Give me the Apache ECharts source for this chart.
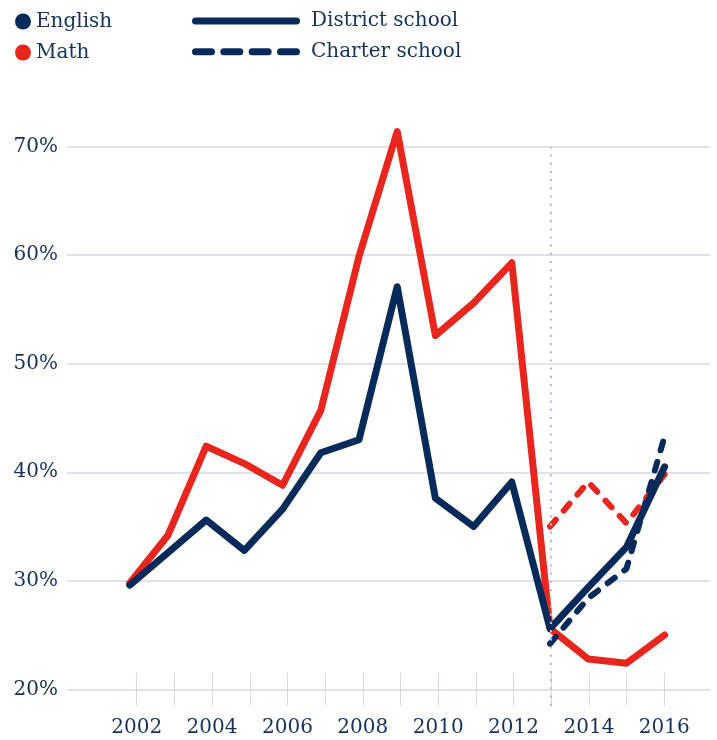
<!DOCTYPE html>
<html>
<head>
<meta charset="utf-8">
<script src="https://cdn.jsdelivr.net/npm/echarts@6/dist/echarts.min.js"></script>
<style>
  html, body { margin: 0; padding: 0; background: #fff; }
  #chart { width: 717px; height: 740px; }
</style>
</head>
<body>
<div id="chart"></div>
<script>
const years = [2002, 2003, 2004, 2005, 2006, 2007, 2008, 2009, 2010, 2011, 2012, 2013, 2014, 2015, 2016];
const englishDistrict = [29.6, 32.6, 35.6, 32.8, 36.6, 41.8, 43.0, 57.1, 37.6, 35.0, 39.1, 25.6, 29.4, 33.1, 40.5];
const mathDistrict = [29.8, 34.2, 42.4, 40.8, 38.8, 45.7, 59.9, 71.4, 52.6, 55.6, 59.3, 25.6, 22.8, 22.4, 25.0];
const charterYears = [2013, 2014, 2015, 2016];
const englishCharter = [24.2, 28.4, 31.1, 43.3];
const mathCharter = [35.0, 39.1, 35.3, 39.8];
const yTicks = [20, 30, 40, 50, 60, 70];
const dividerYear = 2013;

const NAVY = '#062b5b';
const RED = '#e8261e';
const TEXT = '#14325d';
const GRID = '#d6d9e5';
const FONT = 'DejaVu Serif';

const pair = (xs, ys) => xs.map((x, i) => [x, ys[i]]);

// pill shaped legend icons
function pill(x, w, h) {
  let r = h / 2;
  return 'M' + (x + r) + ',0H' + (x + w - r) + 'A' + r + ',' + r + ',0,0,1,' + (x + w - r) + ',' + h +
    'H' + (x + r) + 'A' + r + ',' + r + ',0,0,1,' + (x + r) + ',0Z';
}
const solidIcon = 'path://' + pill(0, 108, 7);
const dashedIcon = 'path://' + [0, 28.33, 56.67, 85].map(x => pill(x, 23, 7)).join('');

let chart = echarts.init(document.getElementById('chart'));

let solid = { width: 7, cap: 'round', join: 'round' };
let dashed = { width: 6, cap: 'round', join: 'round', type: [9, 12] };

let option = {
  animation: false,
  legend: [
    {
      left: 10, top: 6.5, orient: 'vertical', itemGap: 11,
      itemWidth: 16, itemHeight: 16, selectedMode: false,
      textStyle: { fontFamily: FONT, fontSize: 20, color: TEXT },
      data: [{ name: 'English', icon: 'circle' }, { name: 'Math', icon: 'circle' }]
    },
    {
      left: 187, top: 6, orient: 'vertical', itemGap: 10.7,
      itemWidth: 108, itemHeight: 7, selectedMode: false,
      textStyle: { fontFamily: FONT, fontSize: 20, color: TEXT, padding: [0, 0, 0, 6] },
      data: [{ name: 'District school', icon: solidIcon }, { name: 'Charter school', icon: dashedIcon }]
    }
  ],
  grid: [
    { left: 67, right: 7, top: 146.7, bottom: 50.7, outerBoundsMode: 'none' },
    { left: 136.7, right: 52.7, top: 673, bottom: 34, outerBoundsMode: 'none' },
    { left: 136.7, right: 52.7, top: 146.7, bottom: 34, outerBoundsMode: 'none' }
  ],
  xAxis: [
    { gridIndex: 0, type: 'value', min: 2000.356, max: 2017.188, show: false },
    {
      gridIndex: 1, type: 'value', min: years[0], max: years[years.length - 1], interval: 1,
      axisLine: { show: false }, axisTick: { show: false },
      splitLine: { show: true, lineStyle: { color: GRID, width: 1 } },
      axisLabel: {
        margin: 12, fontFamily: FONT, fontSize: 20, color: TEXT,
        formatter: v => (v % 2 === 0 ? String(v) : '')
      }
    },
    { gridIndex: 2, type: 'value', min: years[0], max: years[years.length - 1], show: false }
  ],
  yAxis: [
    {
      gridIndex: 0, type: 'value', min: yTicks[0], max: yTicks[yTicks.length - 1], interval: 10,
      axisLine: { show: false }, axisTick: { show: false },
      splitLine: { lineStyle: { color: GRID, width: 1.5 } },
      axisLabel: {
        margin: 9, fontFamily: FONT, fontSize: 20, color: TEXT, formatter: '{value}%',
        padding: [6, 0, 0, 0]
      }
    },
    { gridIndex: 1, type: 'value', min: 0, max: 1, show: false },
    { gridIndex: 2, type: 'value', min: 0, max: 1, show: false }
  ],
  series: [
    {
      type: 'line', xAxisIndex: 2, yAxisIndex: 2, data: [], silent: true,
      markLine: {
        silent: true, symbol: ['none', 'none'], label: { show: false },
        lineStyle: { color: '#b9bdd3', width: 2.2, type: [2.2, 6] },
        data: [{ xAxis: dividerYear }]
      }
    },
    {
      name: 'Math', type: 'line', symbol: 'none', clip: false, color: RED,
      lineStyle: Object.assign({ color: RED }, solid),
      data: pair(years, mathDistrict)
    },
    {
      name: 'Math charter', type: 'line', symbol: 'none', clip: false, color: RED,
      lineStyle: Object.assign({ color: RED }, dashed),
      data: pair(charterYears, mathCharter)
    },
    {
      name: 'English', type: 'line', symbol: 'none', clip: false, color: NAVY,
      lineStyle: Object.assign({ color: NAVY }, solid),
      data: pair(years, englishDistrict)
    },
    {
      name: 'English charter', type: 'line', symbol: 'none', clip: false, color: NAVY,
      lineStyle: Object.assign({ color: NAVY }, dashed),
      data: pair(charterYears, englishCharter)
    },
    { name: 'District school', type: 'line', symbol: 'none', color: NAVY, data: [] },
    { name: 'Charter school', type: 'line', symbol: 'none', color: NAVY, data: [] }
  ]
};

chart.setOption(option);
</script>
</body>
</html>
